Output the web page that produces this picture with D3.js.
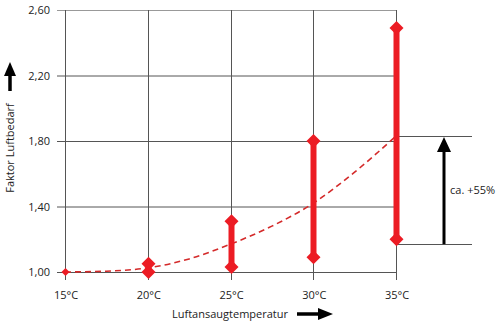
<!DOCTYPE html>
<html>
<head>
<meta charset="utf-8">
<script src="https://d3js.org/d3.v7.min.js"></script>
<style>
body { margin: 0; background: #fff; }
text { font-family: "Open Sans", "Noto Sans", sans-serif; font-size: 11px; fill: #222; }
</style>
</head>
<body>
<svg id="chart" width="504" height="322"></svg>
<script>
// temperatures on the x axis
var temps = [15, 20, 25, 30, 35];
var tempLabels = ["15°C", "20°C", "25°C", "30°C", "35°C"];
var yTicks = [1.0, 1.4, 1.8, 2.2, 2.6];

// red ranges (min, max factor) per temperature
var rangeTemps = [20, 25, 30, 35];
var rangeLow = [1.00, 1.03, 1.09, 1.20];
var rangeHigh = [1.05, 1.31, 1.80, 2.49];

// dashed average curve
var curveT = [15, 17.5, 20, 22.5, 25, 27.5, 30, 32.5, 35];
var curveV = [1.00, 1.005, 1.025, 1.08, 1.17, 1.28, 1.42, 1.61, 1.83];

var refLow = 1.17, refHigh = 1.83;
var refLabel = "ca. +55%";

var svg = d3.select("#chart");
var x = d3.scaleLinear().domain([15, 35]).range([65, 396]);
var y = d3.scaleLinear().domain([1.0, 2.6]).range([272, 10]);

// grid
svg.selectAll(".hg").data(yTicks).enter().append("line")
  .attr("x1", 57).attr("x2", 396)
  .attr("y1", function(d) { return y(d) + 0.5; })
  .attr("y2", function(d) { return y(d) + 0.5; })
  .attr("stroke", function(d) { return d == 2.6 ? "#999" : "#555"; })
  .attr("stroke-width", 1);

svg.selectAll(".vg").data(temps).enter().append("line")
  .attr("x1", function(d) { return Math.round(x(d)) + 0.5; })
  .attr("x2", function(d) { return Math.round(x(d)) + 0.5; })
  .attr("y1", y(2.6)).attr("y2", 280)
  .attr("stroke", "#555").attr("stroke-width", 1);

// tick labels
svg.selectAll(".yl").data(yTicks).enter().append("text")
  .attr("x", 50).attr("y", function(d) { return y(d) + 4; })
  .attr("text-anchor", "end")
  .text(function(d) { return d3.format(".2f")(d).replace(".", ","); });

svg.selectAll(".xl").data(temps).enter().append("text")
  .attr("x", function(d) { return x(d) + 1; }).attr("y", 299)
  .attr("text-anchor", "middle")
  .text(function(d, i) { return tempLabels[i]; });

// reference lines + arrow on the right
[refLow, refHigh].forEach(function(v) {
  svg.append("line").attr("x1", 396).attr("x2", 472)
    .attr("y1", Math.round(y(v)) + 0.5).attr("y2", Math.round(y(v)) + 0.5)
    .attr("stroke", "#555");
});
svg.append("line").attr("x1", 444).attr("x2", 444)
  .attr("y1", y(refLow)).attr("y2", y(refHigh) + 14)
  .attr("stroke", "#000").attr("stroke-width", 3);
svg.append("path")
  .attr("d", "M444," + (y(refHigh) + 1) + "L437," + (y(refHigh) + 16) + "L451," + (y(refHigh) + 16) + "Z")
  .attr("fill", "#000");
svg.append("text").attr("x", 450).attr("y", y((refLow + refHigh) / 2) + 4).text(refLabel);

// dashed curve
var line = d3.line().curve(d3.curveMonotoneX)
  .x(function(d, i) { return x(d); })
  .y(function(d, i) { return y(curveV[i]); });
svg.append("path").attr("d", line(curveT))
  .attr("fill", "none").attr("stroke", "#d42a2a")
  .attr("stroke-width", 1.6).attr("stroke-dasharray", "6,4");

var red = "#ec1c24";
function diamond(cx, cy, r) {
  svg.append("path")
    .attr("d", "M" + cx + "," + (cy - r) + "L" + (cx + r) + "," + cy + "L" + cx + "," + (cy + r) + "L" + (cx - r) + "," + cy + "Z")
    .attr("fill", red);
}

// red ranges
rangeTemps.forEach(function(t, i) {
  var cx = Math.round(x(t)) + 0.5;
  svg.append("line").attr("x1", cx).attr("x2", cx)
    .attr("y1", y(rangeLow[i])).attr("y2", y(rangeHigh[i]))
    .attr("stroke", red).attr("stroke-width", 6);
  diamond(cx, y(rangeLow[i]), 7);
  diamond(cx, y(rangeHigh[i]), 7);
});
diamond(Math.round(x(15)) + 0.5, y(1.0), 4);

// axis titles with arrows
svg.append("text").attr("transform", "translate(14,148) rotate(-90)")
  .attr("text-anchor", "middle").text("Faktor Luftbedarf");
svg.append("line").attr("x1", 10).attr("x2", 10).attr("y1", 91).attr("y2", 74)
  .attr("stroke", "#000").attr("stroke-width", 3.5);
svg.append("path").attr("d", "M10,62L4,76L16,76Z").attr("fill", "#000");

svg.append("text").attr("x", 172).attr("y", 318).text("Luftansaugtemperatur");
svg.append("line").attr("x1", 297).attr("x2", 320).attr("y1", 314).attr("y2", 314)
  .attr("stroke", "#000").attr("stroke-width", 3.5);
svg.append("path").attr("d", "M333,314L318,308L318,320Z").attr("fill", "#000");
</script>
</body>
</html>
